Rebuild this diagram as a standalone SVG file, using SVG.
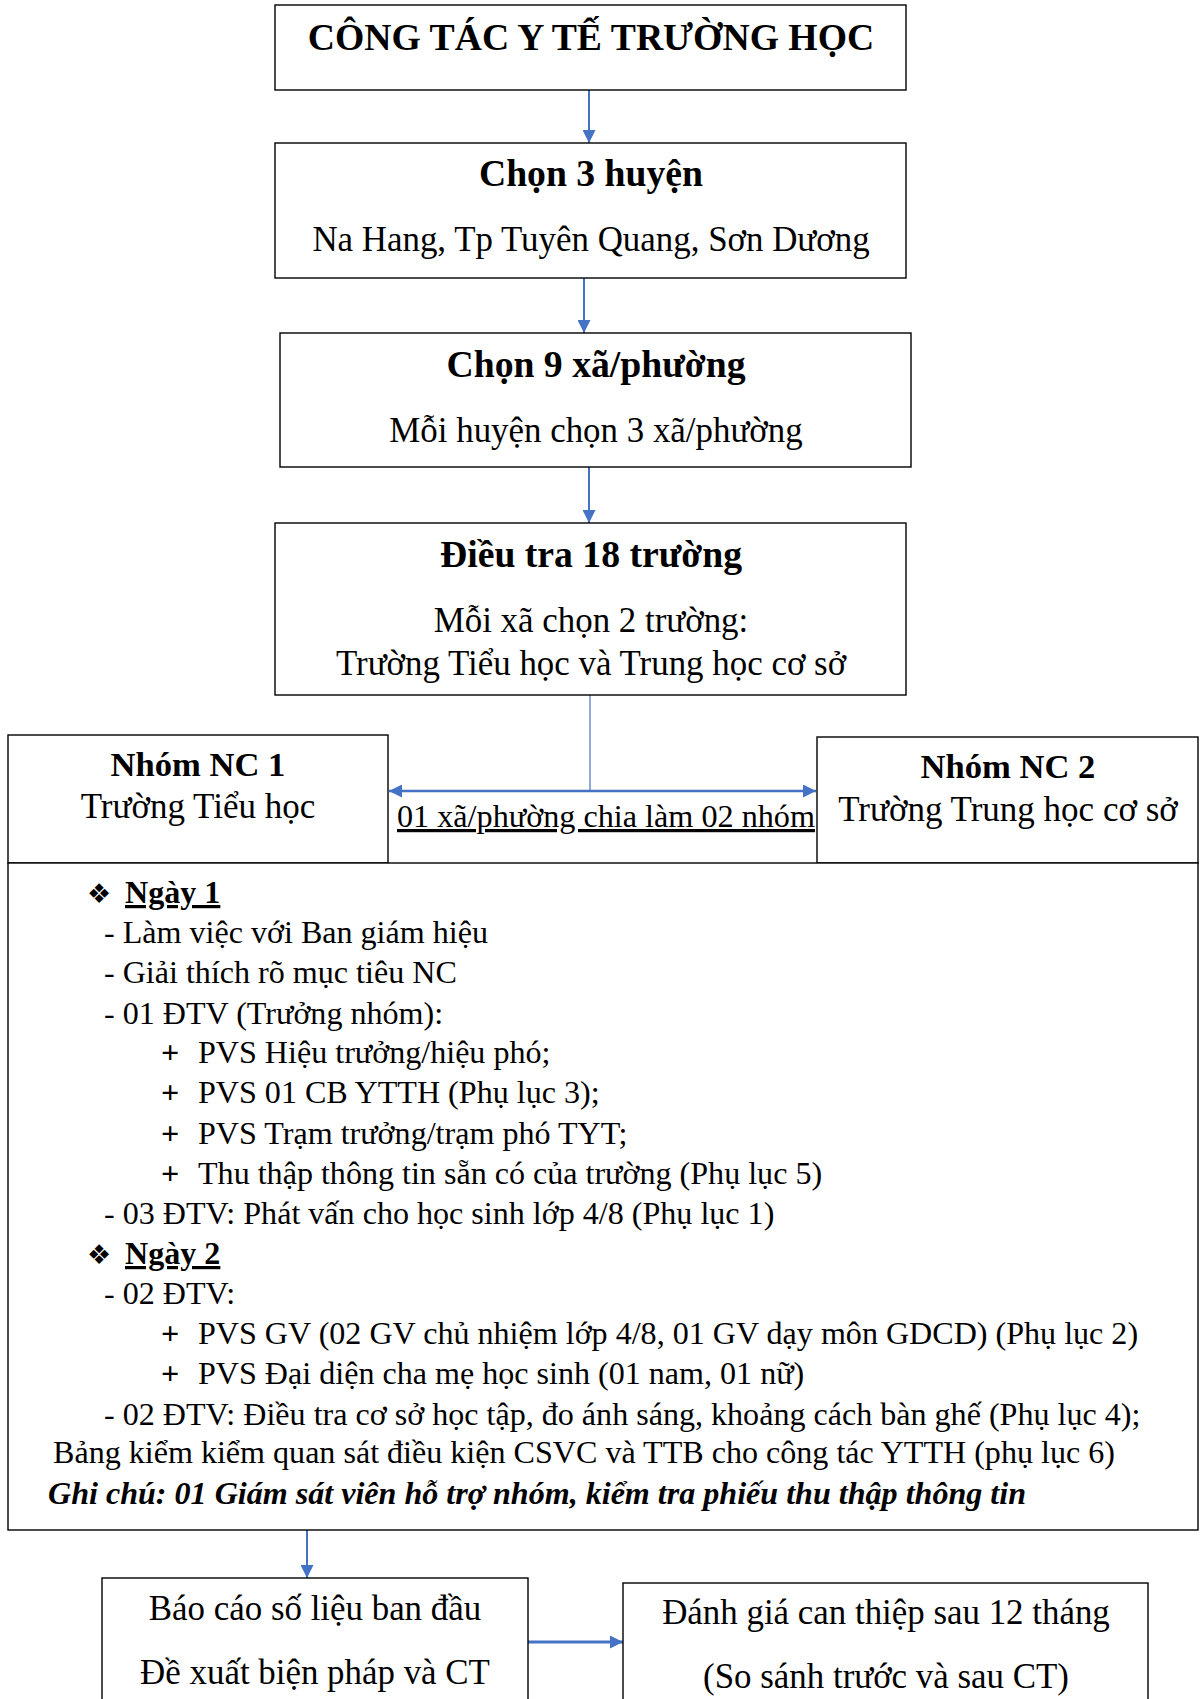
<svg xmlns="http://www.w3.org/2000/svg" width="1200" height="1699" viewBox="0 0 1200 1699">
<defs>
<style>
.box{fill:#fff;stroke:#000;stroke-width:1.4}
.t{font-family:"Liberation Serif","Times New Roman",serif;fill:#000}
.h{font-size:37.7px;font-weight:bold;text-anchor:middle}
.s{font-size:34.9px;text-anchor:middle}
.n{font-size:35px;text-anchor:middle}
.nb{font-size:34.6px;font-weight:bold;text-anchor:middle}
.b{font-size:32.1px}
.bul{font-family:"DejaVu Sans",sans-serif;font-size:27px;fill:#000}
.pl{font-weight:bold}
.con{stroke:#4472C4;fill:none}
</style>
<marker id="ah" viewBox="0 0 10 10" refX="10" refY="5" markerWidth="15" markerHeight="13" markerUnits="userSpaceOnUse" orient="auto-start-reverse">
<path d="M0,0 L10,5 L0,10 z" fill="#4472C4"/>
</marker>
</defs>
<rect width="1200" height="1699" fill="#fff"/>

<g id="connectors">
<line class="con" x1="589" y1="90" x2="589" y2="143" stroke-width="2" marker-end="url(#ah)"/>
<line class="con" x1="584" y1="278" x2="584" y2="333" stroke-width="2" marker-end="url(#ah)"/>
<line class="con" x1="589" y1="467" x2="589" y2="523" stroke-width="2" marker-end="url(#ah)"/>
<line class="con" x1="590" y1="695" x2="590" y2="791" stroke-width="1.2"/>
<line class="con" x1="389" y1="791" x2="816" y2="791" stroke-width="2.6" marker-start="url(#ah)" marker-end="url(#ah)"/>
<line class="con" x1="307" y1="1530" x2="307" y2="1578" stroke-width="2" marker-end="url(#ah)"/>
<line class="con" x1="528" y1="1642" x2="623" y2="1642" stroke-width="3" marker-end="url(#ah)"/>
</g>

<g id="n1">
<rect class="box" x="275" y="5" width="631" height="85"/>
<text class="t h" x="591" y="50">CÔNG TÁC Y TẾ TRƯỜNG HỌC</text>
</g>
<g id="n2">
<rect class="box" x="275" y="143" width="631" height="135"/>
<text class="t h" x="591" y="186">Chọn 3 huyện</text>
<text class="t s" x="591" y="251">Na Hang, Tp Tuyên Quang, Sơn Dương</text>
</g>
<g id="n3">
<rect class="box" x="280" y="333" width="631" height="134"/>
<text class="t h" x="596" y="377">Chọn 9 xã/phường</text>
<text class="t s" x="596" y="442">Mỗi huyện chọn 3 xã/phường</text>
</g>
<g id="n4">
<rect class="box" x="275" y="523" width="631" height="172"/>
<text class="t h" x="591" y="567">Điều tra 18 trường</text>
<text class="t s" x="591" y="632">Mỗi xã chọn 2 trường:</text>
<text class="t s" x="591" y="675">Trường Tiểu học và Trung học cơ sở</text>
</g>
<g id="n5">
<rect class="box" x="8" y="735" width="380" height="128"/>
<text class="t nb" x="198" y="776">Nhóm NC 1</text>
<text class="t n" x="198" y="818">Trường Tiểu học</text>
</g>
<g id="n6">
<rect class="box" x="817" y="737" width="381" height="126"/>
<text class="t nb" x="1008" y="778">Nhóm NC 2</text>
<text class="t n" x="1008" y="821">Trường Trung học cơ sở</text>
</g>
<g id="label">
<text class="t" x="397" y="827" font-size="32.2px" text-decoration="underline">01 xã/phường chia làm 02 nhóm</text>
</g>
<g id="n7">
<rect class="box" x="8" y="863" width="1190" height="667"/>
<text class="bul" x="87" y="903">❖</text>
<text class="t b" x="125" y="903" font-weight="bold" text-decoration="underline">Ngày 1</text>
<text class="t b" x="104" y="943">- Làm việc với Ban giám hiệu</text>
<text class="t b" x="104" y="983">- Giải thích rõ mục tiêu NC</text>
<text class="t b" x="104" y="1024">- 01 ĐTV (Trưởng nhóm):</text>
<text class="t b pl" x="161" y="1063">+</text>
<text class="t b" x="198" y="1063">PVS Hiệu trưởng/hiệu phó;</text>
<text class="t b pl" x="161" y="1103">+</text>
<text class="t b" x="198" y="1103">PVS 01 CB YTTH (Phụ lục 3);</text>
<text class="t b pl" x="161" y="1144">+</text>
<text class="t b" x="198" y="1144">PVS Trạm trưởng/trạm phó TYT;</text>
<text class="t b pl" x="161" y="1184">+</text>
<text class="t b" x="198" y="1184">Thu thập thông tin sẵn có của trường (Phụ lục 5)</text>
<text class="t b" x="104" y="1224">- 03 ĐTV: Phát vấn cho học sinh lớp 4/8 (Phụ lục 1)</text>
<text class="bul" x="87" y="1264">❖</text>
<text class="t b" x="125" y="1264" font-weight="bold" text-decoration="underline">Ngày 2</text>
<text class="t b" x="104" y="1304">- 02 ĐTV:</text>
<text class="t b pl" x="161" y="1344">+</text>
<text class="t b" x="198" y="1344">PVS GV (02 GV chủ nhiệm lớp 4/8, 01 GV dạy môn GDCD) (Phụ lục 2)</text>
<text class="t b pl" x="161" y="1384">+</text>
<text class="t b" x="198" y="1384">PVS Đại diện cha mẹ học sinh (01 nam, 01 nữ)</text>
<text class="t b" x="104" y="1425">- 02 ĐTV: Điều tra cơ sở học tập, đo ánh sáng, khoảng cách bàn ghế (Phụ lục 4);</text>
<text class="t b" x="53" y="1463">Bảng kiểm kiểm quan sát điều kiện CSVC và TTB cho công tác YTTH (phụ lục 6)</text>
<text class="t b" x="48" y="1504" font-weight="bold" font-style="italic">Ghi chú: 01 Giám sát viên hỗ trợ nhóm, kiểm tra phiếu thu thập thông tin</text>
</g>
<g id="n8">
<rect class="box" x="102" y="1578" width="426" height="130"/>
<text class="t s" x="315" y="1620">Báo cáo số liệu ban đầu</text>
<text class="t s" x="315" y="1684">Đề xuất biện pháp và CT</text>
</g>
<g id="n9">
<rect class="box" x="623" y="1583" width="525" height="130"/>
<text class="t s" x="886" y="1624">Đánh giá can thiệp sau 12 tháng</text>
<text class="t s" x="886" y="1688">(So sánh trước và sau CT)</text>
</g>
</svg>
